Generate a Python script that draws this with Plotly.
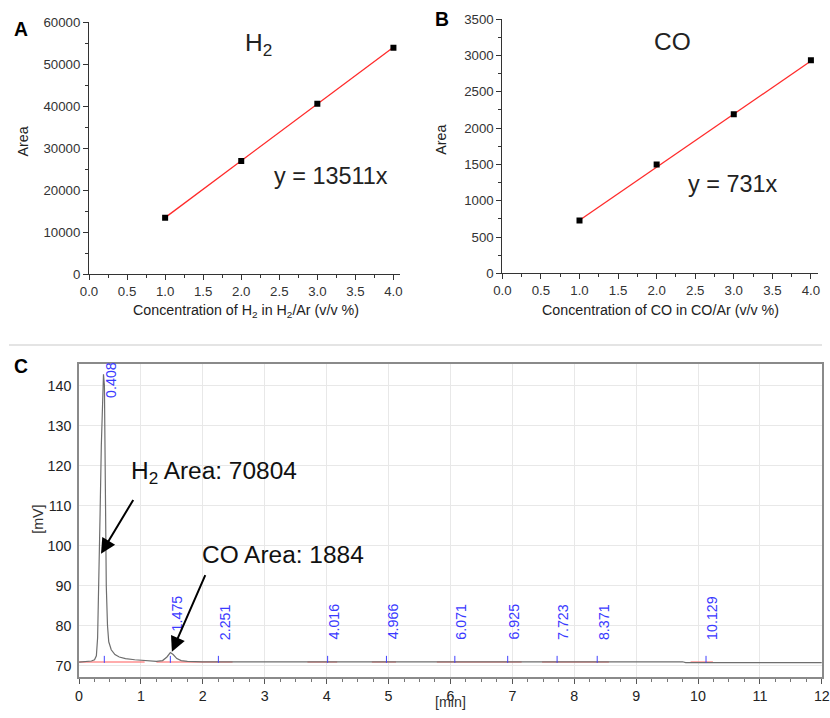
import plotly.graph_objects as go

W, H = 830, 718
FONT = "Liberation Sans, Arial, sans-serif"

# ---------- Panel A / B calibration data ----------
conc = [1.0, 2.0, 3.0, 4.0]
h2_area = [13500, 27000, 40600, 53900]
co_area = [730, 1500, 2190, 2935]
h2_slope = 13511
co_slope = 731
fit_x = [1.0, 4.0]

# ---------- Panel C chromatogram ----------
chrom_t = [0.0, 0.1, 0.2, 0.25, 0.28, 0.30, 0.32, 0.34, 0.36, 0.38, 0.395, 0.41,
           0.42, 0.43, 0.44, 0.46, 0.48, 0.52, 0.58, 0.65, 0.75, 0.9, 1.1, 1.25,
           1.35, 1.42, 1.475, 1.52, 1.58, 1.65, 1.75, 2.0, 3.0, 5.0, 7.0, 9.0,
           9.75, 9.8, 10.4, 10.45, 12.0]
chrom_mv = [70.9, 71.0, 71.2, 71.5, 72.5, 77.0, 90.0, 108.0, 125.0, 138.0, 142.8, 140.0,
            125.0, 105.0, 90.0, 80.0, 76.0, 74.0, 72.8, 72.2, 71.8, 71.5, 71.3, 71.1,
            71.3, 72.2, 73.3, 72.8, 71.8, 71.3, 71.1, 71.0, 71.0, 71.0, 71.0, 71.0,
            71.0, 70.8, 70.8, 70.9, 70.8]

# red integration baselines (start, end)
base_start = [0.0, 1.25, 3.69, 4.73, 5.78, 7.48, 9.88]
base_end = [1.06, 2.48, 4.17, 5.12, 7.15, 8.56, 10.24]
base_mv = 70.95

peak_times = [0.408, 1.475, 2.251, 4.016, 4.966, 6.071, 6.925, 7.723, 8.371, 10.129]
peak_labels = ["0.408", "1.475", "2.251", "4.016", "4.966", "6.071", "6.925", "7.723", "8.371", "10.129"]
label_bottom = [136.5, 78.2, 76, 76, 76, 76, 76, 76, 76, 76]

# The rendered page is shown with an 8px page margin and shrunk back to the window,
# so target pixel positions are mapped into figure pixels here.
PAD = 8
SX = (W + 2 * PAD) / W
SY = (H + 2 * PAD) / H
S = SX


def px(x):
    return (x * SX - PAD) / W


def py(y):
    return 1 - (y * SY - PAD) / H


def fs(v):
    return round(v * S, 2)


fig = go.Figure()

# Panel A
fig.add_trace(go.Scatter(x=fit_x, y=[h2_slope * v for v in fit_x], mode="lines",
                         line=dict(color="#ff2a2a", width=1.3), xaxis="x", yaxis="y", showlegend=False))
fig.add_trace(go.Scatter(x=conc, y=h2_area, mode="markers",
                         marker=dict(symbol="square", size=6, color="black"),
                         xaxis="x", yaxis="y", showlegend=False))
# Panel B
fig.add_trace(go.Scatter(x=fit_x, y=[co_slope * v for v in fit_x], mode="lines",
                         line=dict(color="#ff2a2a", width=1.3), xaxis="x2", yaxis="y2", showlegend=False))
fig.add_trace(go.Scatter(x=conc, y=co_area, mode="markers",
                         marker=dict(symbol="square", size=6, color="black"),
                         xaxis="x2", yaxis="y2", showlegend=False))

# Panel C
bx, by = [], []
for s, e in zip(base_start, base_end):
    bx += [s, e, None]
    by += [base_mv, base_mv, None]
fig.add_trace(go.Scatter(x=bx, y=by, mode="lines", line=dict(color="#ff5a5a", width=1.2),
                         xaxis="x3", yaxis="y3", showlegend=False))
fig.add_trace(go.Scatter(x=chrom_t, y=chrom_mv, mode="lines", line=dict(color="#6e6e6e", width=1.2),
                         xaxis="x3", yaxis="y3", showlegend=False))
fig.add_trace(go.Scatter(x=peak_times, y=[71.6] * len(peak_times), mode="markers",
                         marker=dict(symbol="line-ns", size=5, line=dict(color="#4040ff", width=1)),
                         xaxis="x3", yaxis="y3", showlegend=False))

ax_common = dict(showline=True, linecolor="#333333", linewidth=1, ticks="outside", ticklen=5,
                 tickcolor="#333333", showgrid=False, zeroline=False,
                 tickfont=dict(family=FONT, size=fs(13), color="#333333"))

fig.update_layout(
    width=W, height=H, margin=dict(l=0, r=0, t=0, b=0),
    paper_bgcolor="white", plot_bgcolor="white",
    font=dict(family=FONT),
    xaxis=dict(domain=[px(88), px(399)], range=[0, 4.08], dtick=0.5, tickformat=".1f",
               minor=dict(dtick=0.25, ticks="outside", ticklen=3, tickcolor="#333333"),
               anchor="y", **ax_common),
    yaxis=dict(domain=[py(275), py(23)], range=[0, 60000], dtick=10000, tickformat="d",
               minor=dict(dtick=5000, ticks="outside", ticklen=3, tickcolor="#333333"),
               anchor="x", **ax_common),
    xaxis2=dict(domain=[px(502), px(818)], range=[0, 4.09], dtick=0.5, tickformat=".1f",
                minor=dict(dtick=0.25, ticks="outside", ticklen=3, tickcolor="#333333"),
                anchor="y2", **ax_common),
    yaxis2=dict(domain=[py(274), py(20)], range=[0, 3500], dtick=500, tickformat="d",
                minor=dict(dtick=250, ticks="outside", ticklen=3, tickcolor="#333333"),
                anchor="x2", **ax_common),
    xaxis3=dict(domain=[px(78), px(822)], range=[0, 12], dtick=1, anchor="y3",
                showline=True, mirror=True, linecolor="#8a8a8a", linewidth=1.5,
                ticks="outside", ticklen=5, tickcolor="#555555", ticklabeloverflow="allow",
                minor=dict(dtick=0.25, ticks="outside", ticklen=3, tickcolor="#777777"),
                showgrid=True, gridcolor="#e8e8e8", zeroline=False,
                tickfont=dict(family=FONT, size=fs(14), color="#222222")),
    yaxis3=dict(domain=[py(677), py(364)], range=[67.25, 145.5], dtick=10, anchor="x3",
                showline=True, mirror=True, linecolor="#8a8a8a", linewidth=1.5,
                ticks="", showgrid=True, gridcolor="#e8e8e8", zeroline=False,
                ticklabelstandoff=3,
                tickfont=dict(family=FONT, size=fs(14), color="#222222")),
)

ann = []


def txt(x, y, text, size, **kw):
    d = dict(x=px(x), y=py(y), xref="paper", yref="paper", text=text, showarrow=False,
             xanchor="center", yanchor="middle",
             font=dict(family=FONT, size=fs(size), color=kw.pop("color", "#222222")))
    d.update(kw)
    ann.append(d)


# panel letters
txt(20, 30, "<b>A</b>", 19, color="black")
txt(442, 20, "<b>B</b>", 19, color="black")
txt(20, 366, "<b>C</b>", 19, color="black")
# panel A texts
txt(258, 45, "H<sub>2</sub>", 24)
txt(330, 177, "y = 13511x", 23)
txt(22, 142, "Area", 14, textangle=-90)
txt(245, 312, "Concentration of H<sub>2</sub> in H<sub>2</sub>/Ar (v/v %)", 14)
# panel B texts
txt(672, 42, "CO", 24)
txt(733, 185, "y = 731x", 23)
txt(441, 140, "Area", 14, textangle=-90)
txt(660, 311, "Concentration of CO in CO/Ar (v/v %)", 14)
# panel C axis titles
txt(37, 520, "[mV]", 14, textangle=-90, color="#333333")
txt(450, 711, "[min]", 14, color="#333333", yanchor="bottom", borderpad=0)

# peak labels
for t, lab, yb in zip(peak_times, peak_labels, label_bottom):
    ann.append(dict(x=t, y=yb, xref="x3", yref="y3", text=lab, showarrow=False,
                    textangle=-90, xanchor="center", yanchor="bottom", xshift=6 * S,
                    font=dict(family=FONT, size=fs(14), color="#3a3aff")))

# area annotations
ann.append(dict(x=0.81, y=118.3, xref="x3", yref="y3", text="H<sub>2</sub> Area: 70804",
                showarrow=False, xanchor="left", yanchor="middle",
                font=dict(family=FONT, size=fs(24), color="#111111")))
ann.append(dict(x=1.95, y=97.8, xref="x3", yref="y3", text="CO Area: 1884",
                showarrow=False, xanchor="left", yanchor="middle",
                font=dict(family=FONT, size=fs(24), color="#111111")))
# arrows
ann.append(dict(x=0.355, y=98, ax=0.89, ay=111.8, xref="x3", yref="y3", axref="x3", ayref="y3",
                text="", showarrow=True, arrowhead=2, arrowsize=1.5, arrowwidth=2, arrowcolor="black"))
ann.append(dict(x=1.5, y=73.5, ax=2.05, ay=93, xref="x3", yref="y3", axref="x3", ayref="y3",
                text="", showarrow=True, arrowhead=2, arrowsize=1.5, arrowwidth=2, arrowcolor="black"))

fig.update_layout(annotations=ann)

fig.add_shape(type="line", xref="paper", yref="paper", x0=0, x1=1, y0=py(345.5), y1=py(345.5),
              line=dict(color="#e4e4e4", width=2))

fig.write_html("out.html")
